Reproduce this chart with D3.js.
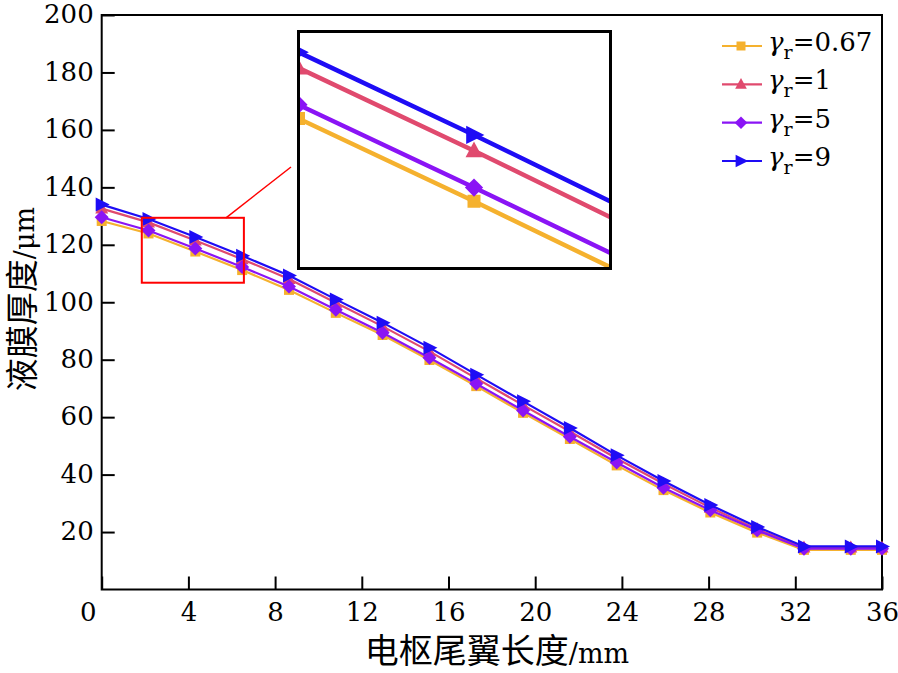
<!DOCTYPE html>
<html><head><meta charset="utf-8">
<script src="https://cdn.jsdelivr.net/npm/d3@7"></script>
<style>body{margin:0;background:#fff}</style>
</head><body><svg id="c" width="898" height="673" xmlns="http://www.w3.org/2000/svg"></svg>
<script>
// ---------- data ----------
const xValues = [0, 2.16, 4.32, 6.48, 8.64, 10.8, 12.96, 15.12, 17.28, 19.44, 21.6, 23.76, 25.92, 28.08, 30.24, 32.4, 34.56, 36];
const seriesLabels = ["0.67", "1", "5", "9"];
const values067 = [128.3, 123.95, 117.65, 111.2, 104.3, 96.3, 88.6, 79.9, 70.8, 61.5, 52.4, 43.2, 34.6, 26.8, 19.8, 13.8, 13.8, 13.8];
const values1   = [132.6, 127.8, 121.5, 115.0, 108.1, 99.8, 91.6, 82.9, 73.5, 64.2, 55.0, 45.6, 36.8, 28.5, 21.0, 14.6, 14.6, 14.6];
const values5   = [129.6, 125.0, 118.7, 112.3, 105.5, 97.4, 89.4, 80.7, 71.6, 62.3, 53.2, 44.2, 35.4, 27.6, 20.6, 14.2, 14.2, 14.2];
const values9   = [134.0, 129.0, 122.7, 116.2, 109.3, 101.0, 92.9, 84.2, 74.8, 65.5, 56.2, 46.7, 37.8, 29.4, 21.8, 15.0, 15.0, 15.0];
const xTicks = [0, 4, 8, 12, 16, 20, 24, 28, 32, 36];
const yTicks = [20, 40, 60, 80, 100, 120, 140, 160, 180, 200];
const zoomXRange = [1.85, 6.56];
const zoomYRange = [106.8, 129.4];
const insetXDomain = [2.16, 6.0];
const insetYDomain = [112.54, 130.57];

// ---------- styles ----------
const colors = ["#F5B12E", "#E04A6E", "#8A14F5", "#1E0CF5"];
const shapes = ["square", "triangle", "diamond", "right"];
const FONT = "DejaVu Serif, Noto Sans CJK SC, serif";

const allValues = [values067, values1, values5, values9];
const svg = d3.select("#c").attr("font-family", FONT);
const L = 101.7, R = 882, T = 15, B = 589.5;
const x = d3.scaleLinear([0, 36], [L, R]);
const y = d3.scaleLinear([0, 200], [B, T]);

function markerPath(shape, s) {
  switch (shape) {
    case "square": return `M${-5*s},${-5*s}H${5*s}V${5*s}H${-5*s}Z`;
    case "triangle": return `M0,${-7*s}L${6.5*s},${5*s}L${-6.5*s},${5*s}Z`;
    case "diamond": return `M0,${-7*s}L${7*s},0L0,${7*s}L${-7*s},0Z`;
    case "right": return `M${-6*s},${-7*s}L${8*s},0L${-6*s},${7*s}Z`;
  }
}

// ---------- axes ----------
const yAxis = d3.axisLeft(y).tickValues(yTicks).tickSizeInner(-13).tickSizeOuter(0).tickPadding(8);
const gy = svg.append("g").attr("transform", `translate(${L},0)`).call(yAxis);
gy.attr("font-family", FONT);
gy.select(".domain").remove();
gy.selectAll("line").attr("stroke", "#000").attr("stroke-width", 2);
gy.selectAll("text").attr("font-size", 26).attr("fill", "#000").attr("dy", "0.3em");

const xAxis = d3.axisBottom(x).tickValues(xTicks).tickSizeInner(-13).tickSizeOuter(0).tickPadding(13);
const gx = svg.append("g").attr("transform", `translate(0,${B})`).call(xAxis);
gx.attr("font-family", FONT);
gx.select(".domain").remove();
gx.selectAll("line").attr("stroke", "#000").attr("stroke-width", 2);
gx.selectAll("text").attr("font-size", 26).attr("fill", "#000")
  .attr("dx", d => d === 0 ? -14 : 0);

// frame
svg.append("rect").attr("x", L).attr("y", T).attr("width", R - L).attr("height", B - T)
  .attr("fill", "none").attr("stroke", "#000").attr("stroke-width", 2);

// axis titles
const xt = svg.append("text").attr("x", 497).attr("y", 663).attr("text-anchor", "middle")
  .attr("font-size", 34).attr("fill", "#000");
xt.append("tspan").text("电枢尾翼长度");
xt.append("tspan").attr("font-size", 27).text("/mm");
const yt = svg.append("text").attr("transform", "translate(34,299) rotate(-90)").attr("text-anchor", "middle")
  .attr("font-size", 33).attr("fill", "#000");
yt.append("tspan").text("液膜厚度");
yt.append("tspan").attr("font-size", 27).text("/μm");

// ---------- series ----------
const line = d3.line().x((d, i) => x(xValues[i])).y(d => y(d));
allValues.forEach((vals, si) => {
  const g = svg.append("g");
  g.append("path").attr("d", line(vals)).attr("fill", "none").attr("stroke", colors[si]).attr("stroke-width", 2.2);
  g.selectAll("path.m").data(vals).join("path").attr("class", "m")
    .attr("transform", (d, i) => `translate(${x(xValues[i])},${y(d)})`)
    .attr("d", markerPath(shapes[si], 1.0)).attr("fill", colors[si]);
});

// ---------- zoom rectangle & connector ----------
svg.append("rect").attr("x", x(zoomXRange[0])).attr("y", y(zoomYRange[1]))
  .attr("width", x(zoomXRange[1]) - x(zoomXRange[0])).attr("height", y(zoomYRange[0]) - y(zoomYRange[1]))
  .attr("fill", "none").attr("stroke", "#FF0000").attr("stroke-width", 2);
svg.append("line").attr("x1", 226).attr("y1", y(zoomYRange[1])).attr("x2", 291).attr("y2", 167)
  .attr("stroke", "#FF0000").attr("stroke-width", 1.5);

// ---------- inset ----------
const IL = 298.5, IR = 610.5, IT = 31.5, IB = 268.5;
const xi = d3.scaleLinear(insetXDomain, [IL, IR]);
const yi = d3.scaleLinear(insetYDomain, [IB, IT]);
svg.append("rect").attr("x", IL).attr("y", IT).attr("width", IR - IL).attr("height", IB - IT).attr("fill", "#fff");
svg.append("clipPath").attr("id", "ic").append("rect").attr("x", IL).attr("y", IT).attr("width", IR - IL).attr("height", IB - IT);
const ig = svg.append("g").attr("clip-path", "url(#ic)");
const iline = d3.line().x((d, i) => xi(xValues[i])).y(d => yi(d));
allValues.forEach((vals, si) => {
  ig.append("path").attr("d", iline(vals)).attr("fill", "none").attr("stroke", colors[si]).attr("stroke-width", 4.5);
  ig.selectAll(null).data(vals).join("path")
    .attr("transform", (d, i) => `translate(${xi(xValues[i])},${yi(d)})`)
    .attr("d", markerPath(shapes[si], 1.3)).attr("fill", colors[si]);
});
svg.append("rect").attr("x", IL).attr("y", IT).attr("width", IR - IL).attr("height", IB - IT)
  .attr("fill", "none").attr("stroke", "#000").attr("stroke-width", 3);

// ---------- legend ----------
const legY = [46, 84.3, 122.7, 161];
seriesLabels.forEach((lab, si) => {
  const g = svg.append("g").attr("transform", `translate(0,${legY[si]})`);
  g.append("line").attr("x1", 722).attr("x2", 762).attr("y1", 0).attr("y2", 0).attr("stroke", colors[si]).attr("stroke-width", 2.2);
  g.append("path").attr("transform", "translate(741,0)").attr("d", markerPath(shapes[si], 0.9)).attr("fill", colors[si]);
  const t = g.append("text").attr("x", 768).attr("y", 5).attr("font-size", 26).attr("fill", "#000");
  t.append("tspan").attr("font-style", "italic").text("γ");
  t.append("tspan").attr("font-size", 19).attr("dy", 8).text("r");
  t.append("tspan").attr("dy", -8).text("=" + lab);
});
</script></body></html>
